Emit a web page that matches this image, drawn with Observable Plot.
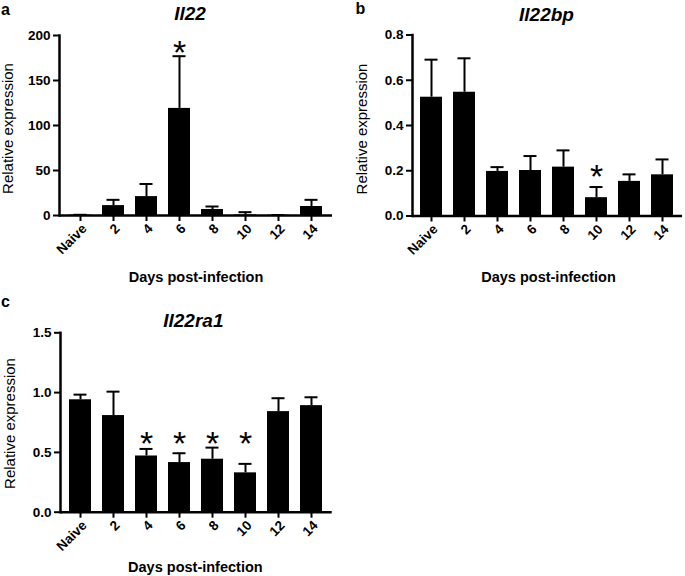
<!DOCTYPE html>
<html><head><meta charset="utf-8">
<script src="https://cdn.jsdelivr.net/npm/d3@7"></script>
<script src="https://cdn.jsdelivr.net/npm/@observablehq/plot@0.6"></script>
<style>
body{margin:0;background:#fff;}
#wrap{position:relative;width:685px;height:576px;background:#fff;overflow:hidden;}
#wrap svg{position:absolute;overflow:visible;}
</style></head><body><div id="wrap"></div>
<script>
// Categories
const days = ["Naive", "2", "4", "6", "8", "10", "12", "14"];

// Panel a: Il22 (mean and mean+SEM)
const il22Mean  = [0.5, 11, 21, 119, 6.7, 0.7, 0.3, 10];
const il22Upper = [0.8, 17.4, 35, 177, 10, 3.7, 0.5, 17.4];
const il22StarDays = ["6"];
const il22StarLevel = 189;
const il22Ticks = [0, 50, 100, 150, 200];

// Panel b: Il22bp
const il22bpMean  = [0.525, 0.547, 0.197, 0.201, 0.216, 0.081, 0.153, 0.182];
const il22bpUpper = [0.691, 0.697, 0.216, 0.265, 0.290, 0.128, 0.184, 0.250];
const il22bpStarDays = ["10"];
const il22bpStarLevel = 0.206;
const il22bpTicks = [0, 0.2, 0.4, 0.6, 0.8];

// Panel c: Il22ra1
const il22ra1Mean  = [0.940, 0.808, 0.470, 0.415, 0.443, 0.329, 0.841, 0.891];
const il22ra1Upper = [0.983, 1.008, 0.529, 0.493, 0.540, 0.404, 0.953, 0.961];
const il22ra1StarDays = ["4", "6", "8", "10"];
const il22ra1StarLevel = 0.635;
const il22ra1Ticks = [0, 0.5, 1.0, 1.5];

const FONT = "'Liberation Sans', Arial, Helvetica, sans-serif";
const wrap = document.getElementById("wrap");

function build(cfg) {
  const data = days.map((d, i) => ({day: d, mean: cfg.mean[i], upper: cfg.upper[i]}));
  const stars = cfg.starDays.map(d => ({day: d, y: cfg.starLevel}));
  const t = cfg.txt;
  const svg = Plot.plot({
    width: cfg.width, height: cfg.height,
    marginTop: cfg.m[0], marginRight: cfg.m[1], marginBottom: cfg.m[2], marginLeft: cfg.m[3],
    style: {background: "transparent", fontFamily: FONT, color: "#000"},
    x: {type: "band", domain: days, paddingInner: 0.326, paddingOuter: 0.213, label: null, axis: null},
    y: {domain: cfg.yDomain, label: null, axis: null},
    marks: [
      Plot.barY(data, {x: "day", y: "mean", fill: "#000"}),
      Plot.ruleX(data, {x: "day", y1: "mean", y2: "upper", stroke: "#000", strokeWidth: 2}),
      Plot.tickY(data, {x: "day", y: "upper", stroke: "#000", strokeWidth: 2, insetLeft: 4.5, insetRight: 4.5}),
      Plot.ruleY([0], {stroke: "#000", strokeWidth: 2.5}),
      Plot.frame({anchor: "left", stroke: "#000", strokeWidth: 2.5}),
      Plot.axisY({ticks: cfg.yTicks, tickFormat: cfg.yFormat, tickSize: 6, tickPadding: 3,
        fontSize: 13.5, fontWeight: "bold", strokeWidth: 2, label: null}),
      Plot.axisX({tickSize: 6, tickFormat: () => "", strokeWidth: 2, label: null}),
      Plot.text(days, {x: d => d, frameAnchor: "bottom", rotate: -45, textAnchor: "end", lineAnchor: "middle",
        dx: 4, dy: 11, fontSize: 13.5, fontWeight: "bold"}),
      Plot.text(stars, {x: "day", y: "y", text: () => "*", fontSize: 34, dy: 8}),
      Plot.text([cfg.letter], {frameAnchor: "top-left", textAnchor: "middle", lineAnchor: "middle",
        dx: t.letter[0], dy: t.letter[1], fontSize: 16, fontWeight: "bold"}),
      Plot.text([cfg.title], {frameAnchor: "top", textAnchor: "middle", lineAnchor: "middle",
        dx: t.title[0], dy: t.title[1], fontSize: 19, fontWeight: "bold", fontStyle: "italic"}),
      Plot.text(["Relative expression"], {frameAnchor: "left", textAnchor: "middle", lineAnchor: "middle",
        rotate: -90, dx: t.ylab[0], dy: t.ylab[1], fontSize: 15}),
      Plot.text(["Days post-infection"], {frameAnchor: "bottom", textAnchor: "middle", lineAnchor: "middle",
        dx: t.xlab[0], dy: t.xlab[1], fontSize: 14.5, fontWeight: "bold"})
    ]
  });
  svg.style.left = cfg.left + "px";
  svg.style.top = cfg.top + "px";
  wrap.append(svg);
}

build({
  letter: "a", title: "Il22", mean: il22Mean, upper: il22Upper,
  starDays: il22StarDays, starLevel: il22StarLevel,
  yDomain: [0, 200], yTicks: il22Ticks, yFormat: d3.format("d"),
  left: 0, top: 0, width: 340, height: 290, m: [35, 8, 75, 59],
  txt: {letter: [-54, -26], title: [-6, -21.5], ylab: [-51, 3], xlab: [0, 62]}
});
build({
  letter: "b", title: "Il22bp", mean: il22bpMean, upper: il22bpUpper,
  starDays: il22bpStarDays, starLevel: il22bpStarLevel,
  yDomain: [0, 0.8], yTicks: il22bpTicks, yFormat: d3.format(".1f"),
  left: 340, top: 0, width: 345, height: 290, m: [34.5, 3, 74.5, 72],
  txt: {letter: [-52, -26], title: [-1, -20], ylab: [-50, 3.5], xlab: [1, 61.5]}
});
build({
  letter: "c", title: "Il22ra1", mean: il22ra1Mean, upper: il22ra1Upper,
  starDays: il22ra1StarDays, starLevel: il22ra1StarLevel,
  yDomain: [0, 1.5], yTicks: il22ra1Ticks, yFormat: d3.format(".1f"),
  left: 0, top: 290, width: 340, height: 286, m: [42.3, 8.3, 64.3, 60],
  txt: {letter: [-55, -31], title: [-3, -12], ylab: [-50, 1], xlab: [-1, 55]}
});
</script></body></html>
